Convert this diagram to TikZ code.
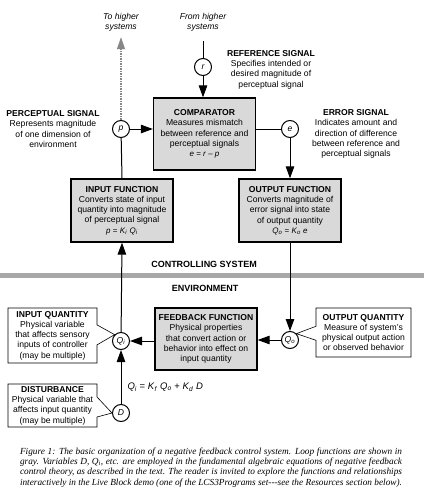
\documentclass[tikz,border=0pt]{standalone}
\usepackage{fontspec}
\setmainfont{Liberation Sans}
\newfontfamily\capserif{Liberation Serif}
\usetikzlibrary{arrows.meta}
\usetikzlibrary{shapes.callouts}

\definecolor{boxgray}{RGB}{217,217,217}
\definecolor{bandgray}{RGB}{168,168,168}
\definecolor{upgray}{RGB}{135,135,135}

\newcommand{\boxfont}{\fontsize{8.6}{10.3}\selectfont}
\newcommand{\eqfont}{\fontsize{8}{10.3}\selectfont}
\newcommand{\capfont}{\capserif\itshape\fontsize{9.3}{10.4}\selectfont}
\newcommand{\vsub}[2]{\textit{#1}\textsubscript{\textit{#2}}}

\tikzstyle{funcbox} = [draw=black, fill=boxgray, line width=1.3pt,
rectangle, minimum width=102pt, inner sep=0pt, align=center, font=\boxfont]
\tikzstyle{infobox} = [rectangle callout, draw=black, fill=white, line width=0.6pt,
inner sep=0pt, align=center, font=\boxfont, callout pointer width=20pt]
\tikzstyle{sig} = [circle, draw=black, fill=white, line width=1pt,
minimum size=17pt, inner sep=0pt, font=\boxfont\itshape]
\tikzstyle{sigtext} = [align=center, font=\boxfont]
\tikzstyle{flow} = [line width=1pt, -{Triangle[length=12pt,width=8.5pt]}]

\begin{document}
\begin{tikzpicture}[x=1pt, y=-1pt]
        \useasboundingbox (0,0) rectangle (428,500);
        % boundary between controller and environment
        \fill[bandgray] (0,273) rectangle (424,278);
        \node[font=\fontsize{9}{11}\selectfont\bfseries] (ctrl) at (204,264) {CONTROLLING SYSTEM};
        \node[font=\fontsize{9}{11}\selectfont\bfseries] (env) at (205,288) {ENVIRONMENT};

        % loop functions
        \node[funcbox, minimum height=72pt] (comp) at (204.5,134) {%
            \textbf{COMPARATOR}\\
            Measures mismatch\\
            between reference and\\
            perceptual signals\\
            {\eqfont\textit{e} = \textit{r} -- \textit{p}}
        };
        \node[funcbox, minimum height=63pt] (infunc) at (122,210.5) {%
            \textbf{INPUT FUNCTION}\\
            Converts state of input\\
            quantity into magnitude\\
            of perceptual signal\\
            {\eqfont\textit{p} = \vsub{K}{i} \vsub{Q}{i}}
        };
        \node[funcbox, minimum height=63pt] (outfunc) at (290,210.5) {%
            \textbf{OUTPUT FUNCTION}\\
            Converts magnitude of\\
            error signal into state\\
            of output quantity\\
            {\eqfont\vsub{Q}{o} = \vsub{K}{o} \textit{e}}
        };
        \node[funcbox, minimum height=62pt] (fbfunc) at (206,339) {%
            \textbf{FEEDBACK FUNCTION}\\
            Physical properties\\
            that convert action or\\
            behavior into effect on\\
            input quantity
        };

        % signals and quantities
        \node[sig] (r) at (203,67) {r};
        \node[sig] (p) at (121,129) {p};
        \node[sig] (e) at (290,129) {e};
        \node[sig] (qo) at (290,340) {\vsub{Q}{o}};
        \node[sig] (qi) at (121,341) {\vsub{Q}{i}};
        \node[sig] (d) at (121,413) {D};

        \node[sigtext, font=\boxfont\itshape] (tohigher) at (121,22.5) {To higher\\systems};
        \node[sigtext, font=\boxfont\itshape] (fromhigher) at (203,22.5) {From higher\\systems};
        \node[sigtext] (refsig) at (271,69.5) {%
            \textbf{REFERENCE SIGNAL}\\Specifies intended or\\desired magnitude of\\perceptual signal};
        \node[sigtext] (percsig) at (53,129) {%
            \textbf{PERCEPTUAL SIGNAL}\\Represents magnitude\\of one dimension of\\environment};
        \node[sigtext] (errsig) at (356,134) {%
            \textbf{ERROR SIGNAL}\\Indicates amount and\\direction of difference\\between reference and\\perceptual signals};
        \node[anchor=west, font=\fontsize{9.5}{11}\selectfont] (qieq) at (124,387)
            {\vsub{Q}{i} = \vsub{K}{f} \vsub{Q}{o} + \vsub{K}{d} \textit{D}};

        % callouts
        \node[infobox, minimum width=89pt, minimum height=55pt,
            callout absolute pointer={(qi.north west)}] (inqty) at (52.5,335.5) {%
            \textbf{INPUT QUANTITY}\\Physical variable\\that affects sensory\\inputs of controller\\(may be multiple)};
        \node[infobox, minimum width=89pt, minimum height=43pt,
            callout absolute pointer={(d.west)}] (dist) at (52.5,405.5) {%
            \textbf{DISTURBANCE}\\Physical variable that\\affects input quantity\\(may be multiple)};
        \node[infobox, minimum width=95pt, minimum height=49pt, callout pointer width=14pt,
            callout absolute pointer={(qo.north east)}] (outqty) at (363.5,332.5) {%
            \textbf{OUTPUT QUANTITY}\\Measure of system's\\physical output action\\or observed behavior};

        % connections
        \draw[line width=1pt] ([yshift=-6pt]fromhigher.south) -- (r);
        \draw[flow] (r) -- (r |- comp.north);
        \draw[flow] (p) -- (p -| comp.west);
        \draw[line width=1pt] (comp.east |- e) -- (e);
        \draw[flow] (e) -- (outfunc.north);
        \draw[flow] (outfunc.south) -- (qo);
        \draw[flow] (qo) -- (qo -| fbfunc.east);
        \draw[flow] (fbfunc.west |- qi) -- (qi);
        \draw[flow] (d) -- (qi);
        \draw[flow] (qi) -- (infunc.south);
        \draw[line width=1pt] (infunc.north) -- (p);
        \draw[upgray, line width=1.2pt, dash pattern=on 1.5pt off 1pt,
            -{Triangle[length=12pt,width=8pt]}] (p) -- ([yshift=-2pt]tohigher.south);

        % caption
        \node[text width=382pt, align=justify, font=\capfont, inner sep=0pt] (caption) at (211,467.5) {%
            Figure 1: The basic organization of a negative feedback control system. Loop functions are shown in\linebreak
            gray. Variables D, Q\textsubscript{i}, etc. are employed in the fundamental algebraic equations of negative feedback\linebreak
            control theory, as described in the text. The reader is invited to explore the functions and relationships\linebreak
            interactively in the Live Block demo (one of the LCS3Programs set---see the Resources section below).};
\end{tikzpicture}
\end{document}
